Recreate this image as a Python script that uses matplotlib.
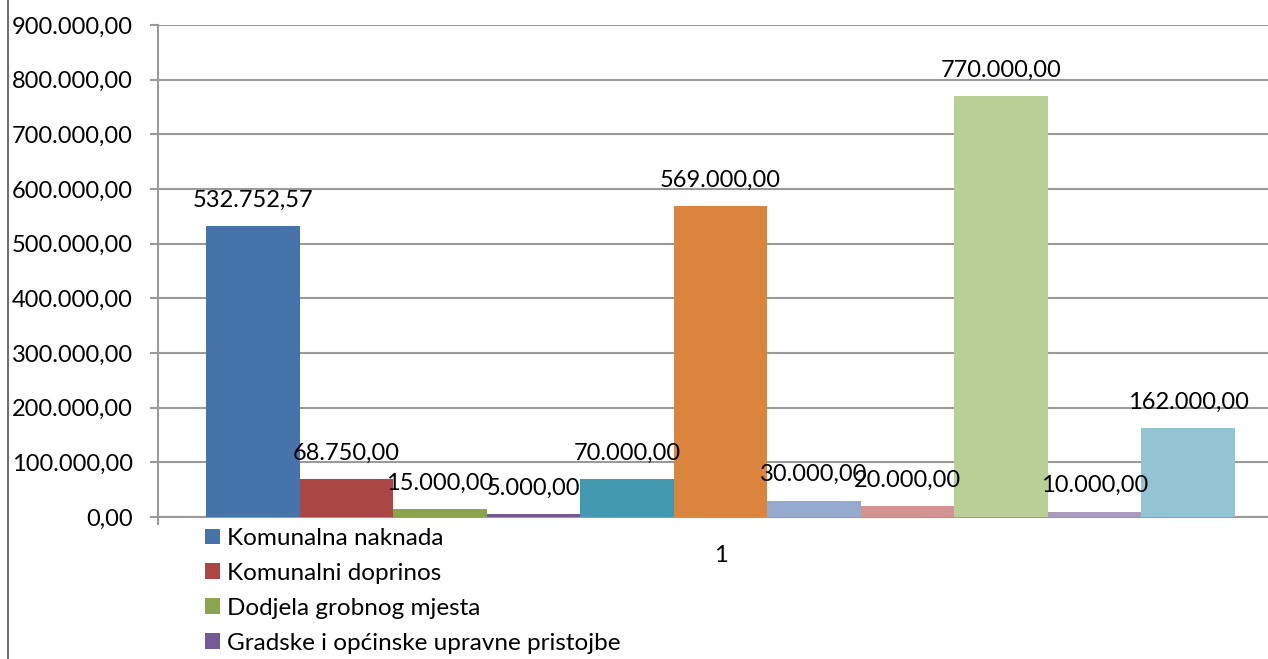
import matplotlib.pyplot as plt
from matplotlib.lines import Line2D

plt.rcParams['font.family'] = ['Lato', 'DejaVu Sans']

# vrijednosti stupaca (jedna kategorija "1")
values = [532752.57, 68750.00, 15000.00, 5000.00, 70000.00, 569000.00,
          30000.00, 20000.00, 770000.00, 10000.00, 162000.00]
colors = ['#4673A9', '#AA4644', '#8AA54E', '#735A92', '#4299B0', '#DB843D',
          '#95AACF', '#D49392', '#BACF96', '#A99BBE', '#93C4D6']
# samo prva cetiri naziva se vide u legendi
legend_names = ["Komunalna naknada", "Komunalni doprinos",
                "Dodjela grobnog mjesta", "Gradske i općinske upravne pristojbe"]
category = "1"
yticks = [0, 100000, 200000, 300000, 400000, 500000, 600000, 700000, 800000, 900000]


def fmt(v):
    s = "{:,.2f}".format(v)
    return s.replace(",", "X").replace(".", ",").replace("X", ".")


fig = plt.figure(figsize=(12.68, 6.59), dpi=100)
ax = fig.add_axes([158 / 1268, 1 - 517 / 659, 1 - 158 / 1268, (517 - 25) / 659])

x = list(range(len(values)))
bars = ax.bar(x, values, width=1.0, color=colors, zorder=3)

for xi, v in zip(x, values):
    ax.annotate(fmt(v), (xi, v), xytext=(0, 11), textcoords='offset points',
                ha='center', va='bottom', fontsize=17, color='black', zorder=4)

ax.set_ylim(0, 900000)
ax.set_xlim(-1.013, 10.853)
ax.set_yticks(yticks)
ax.set_yticklabels([fmt(t) for t in yticks], fontsize=17)
ax.set_xticks([5])
ax.set_xticklabels([category], fontsize=17)
ax.tick_params(axis='x', length=0, pad=20)
ax.set_xticks([-1.013], minor=True)
ax.tick_params(axis='x', which='minor', length=6, width=1.5, color='#9a9a9a')
ax.tick_params(axis='y', length=6, width=1.5, color='#9a9a9a', pad=12)

ax.grid(axis='y', color='#9a9a9a', linewidth=1.5, zorder=0)
for s in ['top', 'right']:
    ax.spines[s].set_visible(False)
for s in ['left', 'bottom']:
    ax.spines[s].set_color('#9a9a9a')
    ax.spines[s].set_linewidth(1.5)

handles = [bars[i] for i in range(len(legend_names))]
fig.legend(handles, legend_names, loc='upper left', bbox_to_anchor=(205 / 1268, 1 - 528 / 659),
           frameon=False, fontsize=17.5, handlelength=0.62, handleheight=0.62,
           handletextpad=0.3, labelspacing=0.57, borderaxespad=0, borderpad=0)

fig.add_artist(Line2D([8 / 1268, 8 / 1268], [0, 1], color='#707070', linewidth=1.5))

fig.savefig('out.png', dpi=100)
